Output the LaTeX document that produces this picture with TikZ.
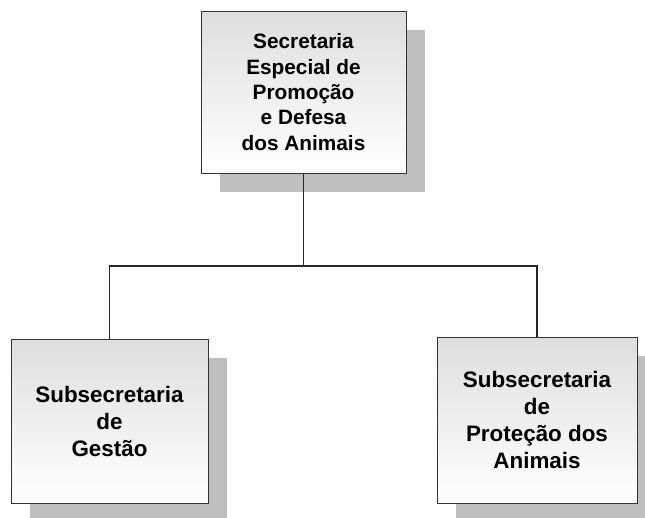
\documentclass[tikz,border=0pt]{standalone}
\usepackage{fontspec}
\setmainfont{Liberation Sans}
\usetikzlibrary{shadows}

\begin{document}
\begin{tikzpicture}[x=1pt,y=-1pt]
        \useasboundingbox (0,0) rectangle (645,517);
        \tikzstyle{every node}=[draw=black!80, line width=1pt, top color=black!13, bottom color=white,
            drop shadow={shadow xshift=19pt, shadow yshift=-19pt, opacity=1, fill=black!25},
            align=center, inner sep=0pt, font=\fontsize{22.4}{27}\selectfont\bfseries]
        \node[minimum width=205pt, minimum height=162pt, font=\fontsize{20.8}{25.3}\selectfont\bfseries] (secretaria) at (303.5, 92) {Secretaria\\Especial de\\Promoção\\e Defesa\\dos Animais};
        \node[minimum width=197pt, minimum height=164pt] (gestao)     at (109.5, 421) {Subsecretaria\\de\\Gestão};
        \node[minimum width=200pt, minimum height=166pt] (protecao)   at (537, 420) {Subsecretaria\\de\\Proteção dos\\Animais};
        \tikzstyle{every node}=[]
        \tikzstyle{every path}=[line width=1.2pt, black!85]
        \coordinate (bus) at (303.5, 266);
        \draw (secretaria) -- (bus) -| (gestao);
        \draw (bus) -| (protecao);
    \end{tikzpicture}
\end{document}
